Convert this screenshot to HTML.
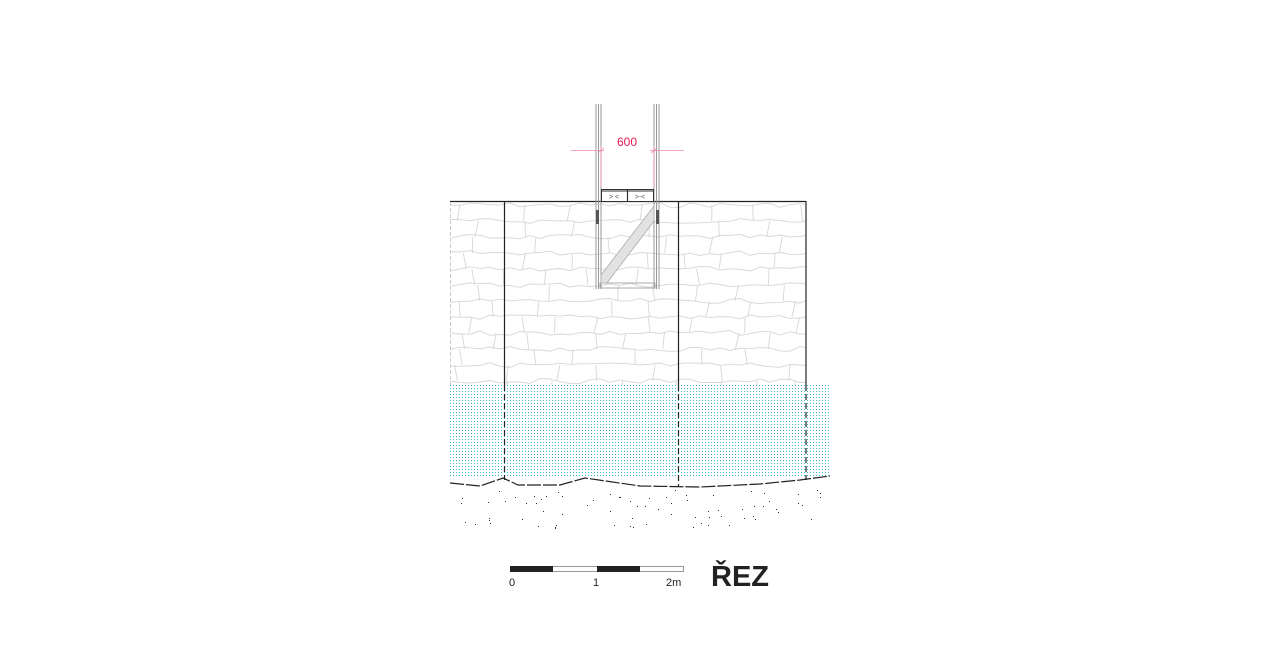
<!DOCTYPE html>
<html><head><meta charset="utf-8"><style>
html,body{margin:0;padding:0;background:#fff;width:1280px;height:650px;overflow:hidden}
svg{display:block}
</style></head><body>
<svg id="s" width="1280" height="650" viewBox="0 0 1280 650" xmlns="http://www.w3.org/2000/svg">
<defs>
<pattern id="water" x="450" y="385" width="3" height="3" patternUnits="userSpaceOnUse">
<rect x="0" y="0" width="1" height="1" fill="#3bbcc8"/>
</pattern>
<clipPath id="wallclip"><rect x="450" y="202" width="356" height="183"/></clipPath>
</defs>
<g id="stones" clip-path="url(#wallclip)" stroke="#d6d6d6" stroke-width="0.9" fill="none"></g>
<rect x="450" y="385" width="380" height="93" fill="url(#water)"/>
<line x1="450" y1="201.5" x2="806" y2="201.5" stroke="#222" stroke-width="1.2"/>
<line x1="450.5" y1="202" x2="450.5" y2="385" stroke="#ccc" stroke-dasharray="4,2"/>
<g stroke="#222" stroke-width="1.2">
<line x1="504.5" y1="201" x2="504.5" y2="385"/>
<line x1="678.5" y1="201" x2="678.5" y2="385"/>
<line x1="806" y1="201" x2="806" y2="385"/>
</g>
<g stroke="#222" stroke-width="1.2" stroke-dasharray="6,3">
<line x1="504.5" y1="385" x2="504.5" y2="480"/>
<line x1="678.5" y1="385" x2="678.5" y2="486"/>
<line x1="806" y1="385" x2="806" y2="480"/>
</g>
<polyline points="450,483 480,486 503,478 518,485 560,485 585,478 640,486 700,487 760,484 800,480 830,476" fill="none" stroke="#222" stroke-width="1.2" stroke-dasharray="14,2"/>
<g id="sand" fill="#333"></g>
<g fill="none" stroke="#999" stroke-width="1">
<line x1="596" y1="104" x2="596" y2="289"/>
<line x1="598.5" y1="104" x2="598.5" y2="289"/>
<line x1="601" y1="104" x2="601" y2="289"/>
<line x1="654" y1="104" x2="654" y2="289"/>
<line x1="656.5" y1="104" x2="656.5" y2="289"/>
<line x1="659" y1="104" x2="659" y2="289"/>
<rect x="600" y="283" width="55" height="5" stroke="#aaa"/>
</g>
<polygon points="601,275 654,206 654,221 607,283 601,283" fill="#e2e2e2" stroke="#aaa" stroke-width="0.8"/>
<rect x="596" y="210" width="3" height="14" fill="#555"/>
<rect x="656" y="210" width="3" height="14" fill="#555"/>
<rect x="601.5" y="189.5" width="52" height="12" fill="#fff" stroke="#333" stroke-width="1"/>
<line x1="602" y1="191" x2="653" y2="191" stroke="#333" stroke-width="1"/>
<line x1="627.5" y1="190" x2="627.5" y2="201" stroke="#333" stroke-width="1.2"/>
<text x="614" y="199" font-family="Liberation Sans,sans-serif" font-size="7" fill="#555" text-anchor="middle">&gt; &lt;</text>
<text x="640" y="199" font-family="Liberation Sans,sans-serif" font-size="7" fill="#555" text-anchor="middle">&gt;-&lt;</text>
<g stroke="#f08aa8" stroke-width="0.8">
<line x1="571" y1="150.5" x2="604" y2="150.5"/>
<line x1="650" y1="150.5" x2="684" y2="150.5"/>
<line x1="601" y1="146" x2="601" y2="186"/>
<line x1="654" y1="146" x2="654" y2="186"/>
<line x1="598" y1="153" x2="604" y2="148"/>
<line x1="651" y1="153" x2="657" y2="148"/>
</g>
<text x="627" y="146" font-family="Liberation Sans,sans-serif" font-size="12" fill="#e8164f" text-anchor="middle">600</text>
<rect x="510.5" y="566.5" width="173" height="5" fill="#fff" stroke="#999" stroke-width="1"/>
<rect x="510" y="566" width="43" height="6" fill="#222"/>
<rect x="597" y="566" width="43" height="6" fill="#222"/>
<g font-family="Liberation Sans,sans-serif" font-size="11" fill="#222">
<text x="509" y="586">0</text>
<text x="593" y="586">1</text>
<text x="666" y="586">2m</text>
</g>
<text x="711" y="586" font-family="Liberation Sans,DejaVu Sans,sans-serif" font-size="29" font-weight="bold" fill="#222">ŘEZ</text>
</svg>
<script>
(function(){
var seed=7;function r(){seed=(seed*9301+49297)%233280;return seed/233280;}
var g=document.getElementById('stones'),ns='http://www.w3.org/2000/svg',d='';
for(var y=205;y<392;y+=16){
  var p='M450 '+(y+r()*4-2).toFixed(1);
  for(var x=460;x<=810;x+=10){p+=' L'+x+' '+(y+r()*5-2.5).toFixed(1);}
  d+=p+' ';
  var x0=450+r()*30;
  while(x0<806){d+='M'+x0.toFixed(1)+' '+y+' L'+(x0+r()*8-4).toFixed(1)+' '+(y+16)+' ';x0+=30+r()*45;}
}
var pa=document.createElementNS(ns,'path');pa.setAttribute('d',d);g.appendChild(pa);
var s=document.getElementById('sand');
for(var i=0;i<75;i++){var c=document.createElementNS(ns,'rect');
c.setAttribute('x',(452+r()*378).toFixed(0));c.setAttribute('y',(490+r()*38).toFixed(0));
c.setAttribute('width',1);c.setAttribute('height',1);s.appendChild(c);}
})();
</script>
</body></html>
